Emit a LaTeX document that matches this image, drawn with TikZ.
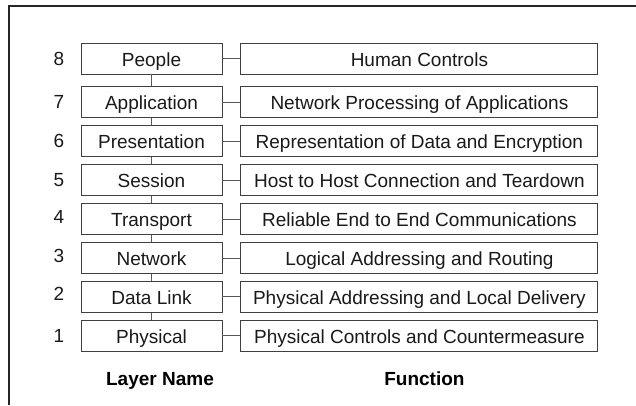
\documentclass[tikz,border=0pt]{standalone}
\usepackage{fontspec}
\setmainfont{Liberation Sans}
\usepackage{tikz}
\usetikzlibrary{positioning}

\begin{document}
\begin{tikzpicture}[x=1pt,y=-1pt,node distance=7pt,line width=0.9pt,
  layer/.style={draw=black!75,text=black!90,minimum width=141pt,minimum height=31pt,inner sep=0pt,
    text height=15pt,text depth=0pt,font=\fontsize{19}{23}\selectfont},
  func/.style={layer,minimum width=357pt},
  num/.style={inner sep=0pt,text=black!90,font=\fontsize{19}{23}\selectfont},
  head/.style={inner sep=0pt,font=\fontsize{19}{23}\selectfont\bfseries},
  link/.style={draw=black!65}]
\useasboundingbox (0,0) rectangle (636,405);
\draw[line width=1.4pt,black!85] (9,405) -- (9,6) -- (636,6);

\node[layer] (L8) at (151.5,58.5) {People};
\node[layer] (L7) [below=12pt of L8] {Application};
\node[layer] (L6) [below=of L7] {Presentation};
\node[layer] (L5) [below=of L6] {Session};
\node[layer] (L4) [below=of L5] {Transport};
\node[layer] (L3) [below=of L4] {Network};
\node[layer] (L2) [below=of L3] {Data Link};
\node[layer] (L1) [below=of L2] {Physical};

\node[func] (F8) [right=18pt of L8] {Human Controls};
\node[func] (F7) [right=18pt of L7] {Network Processing of Applications};
\node[func] (F6) [right=18pt of L6] {Representation of Data and Encryption};
\node[func] (F5) [right=18pt of L5] {Host to Host Connection and Teardown};
\node[func] (F4) [right=18pt of L4] {Reliable End to End Communications};
\node[func] (F3) [right=18pt of L3] {Logical Addressing and Routing};
\node[func] (F2) [right=18pt of L2] {Physical Addressing and Local Delivery};
\node[func] (F1) [right=18pt of L1] {Physical Controls and Countermeasure};

\node[num] (N8) [left=16pt of L8] {8};
\node[num] (N7) [left=16pt of L7] {7};
\node[num] (N6) [left=16pt of L6] {6};
\node[num] (N5) [left=16pt of L5] {5};
\node[num] (N4) [left=16pt of L4, yshift=2pt] {4};
\node[num] (N3) [left=16pt of L3, yshift=2pt] {3};
\node[num] (N2) [left=16pt of L2, yshift=3pt] {2};
\node[num] (N1) [left=16pt of L1] {1};

\node[head] (layername) [below=20pt of L1, xshift=8.5pt] {Layer Name};
\node[head] (function) [below=20pt of F1, xshift=5pt] {Function};

\path[link] (L8) edge (L7)
		edge (F8)
	(L7) edge (L6)
		edge (F7)
	(L6) edge (L5)
		edge (F6)
	(L5) edge (L4)
		edge (F5)
	(L4) edge (L3)
		edge (F4)
	(L3) edge (L2)
		edge (F3)
	(L2) edge (L1)
		edge (F2)
	(L1) edge (F1)
;
\end{tikzpicture}
\end{document}
